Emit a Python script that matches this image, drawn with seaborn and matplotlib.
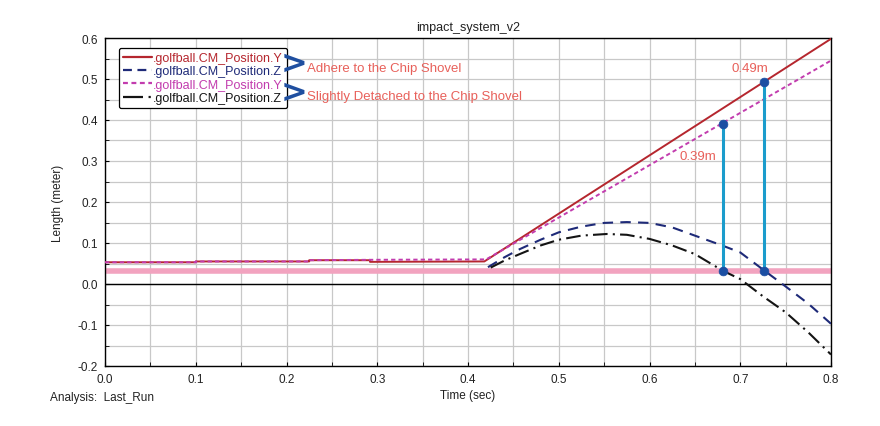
import matplotlib
matplotlib.use("Agg")
import matplotlib.pyplot as plt
from matplotlib.lines import Line2D
from matplotlib.ticker import MultipleLocator
import seaborn as sns
import pandas as pd

# values
adhere_y_t = [0.0, 0.1, 0.1, 0.225, 0.225, 0.292, 0.292, 0.418, 0.8]
adhere_y = [0.053, 0.053, 0.055, 0.055, 0.058, 0.058, 0.054, 0.055, 0.598]

detach_y_t = [0.0, 0.1, 0.1, 0.225, 0.225, 0.292, 0.42, 0.8]
detach_y = [0.053, 0.053, 0.055, 0.055, 0.058, 0.059, 0.060, 0.545]

adhere_z_t = [0.422, 0.44, 0.457, 0.48, 0.50, 0.525, 0.55, 0.575, 0.60,
              0.625, 0.65, 0.68, 0.70, 0.727, 0.75, 0.775, 0.80]
adhere_z = [0.041, 0.065, 0.085, 0.108, 0.126, 0.140, 0.149, 0.151, 0.149,
            0.138, 0.118, 0.094, 0.077, 0.032, -0.006, -0.048, -0.097]

detach_z_t = [0.425, 0.44, 0.457, 0.48, 0.50, 0.525, 0.553, 0.575, 0.60,
              0.625, 0.65, 0.681, 0.70, 0.725, 0.75, 0.775, 0.80]
detach_z = [0.040, 0.057, 0.073, 0.094, 0.108, 0.118, 0.122, 0.120, 0.110,
            0.094, 0.073, 0.032, 0.012, -0.030, -0.069, -0.118, -0.172]

ground_level = 0.032
gap_t = [0.6805, 0.726]
gap_top = [0.39, 0.493]
gap_labels = ["0.39m", "0.49m"]
gap_label_pos = [(0.653, 0.313), (0.711, 0.527)]

legend_labels = [".golfball.CM_Position.Y", ".golfball.CM_Position.Z",
                 ".golfball.CM_Position.Y", ".golfball.CM_Position.Z"]
notes = ["Adhere to the Chip Shovel", "Slightly Detached to the Chip Shovel"]

sns.set_style("white")
plt.rcParams['font.family'] = ['Liberation Sans', 'DejaVu Sans']
plt.rcParams['axes.unicode_minus'] = False

fig = plt.figure(figsize=(8.8, 4.27), dpi=100)
ax = fig.add_axes([105 / 880, 1 - 367 / 427, 726 / 880, 328 / 427])

c_red = "#b5262e"
c_navy = "#1e2a78"
c_mag = "#c23cae"
c_blk = "#141414"
c_note = "#e8605a"

ax.axhline(ground_level, color="#f2a3bf", lw=4, zorder=2)
ax.axhline(0, color="black", lw=1, zorder=2)

sns.lineplot(x=adhere_y_t, y=adhere_y, ax=ax, color=c_red, lw=1.4,
             estimator=None, sort=False, zorder=3)
sns.lineplot(x=detach_y_t, y=detach_y, ax=ax, color=c_mag, lw=1.4,
             linestyle=(0, (2.2, 1.6)), estimator=None, sort=False, zorder=3)
sns.lineplot(x=adhere_z_t, y=adhere_z, ax=ax, color=c_navy, lw=1.5,
             linestyle=(0, (5, 3.5)), estimator=None, sort=False, zorder=3)
sns.lineplot(x=detach_z_t, y=detach_z, ax=ax, color=c_blk, lw=1.5,
             linestyle=(0, (7, 2.5, 1, 2.5)), estimator=None, sort=False, zorder=3)

# measured gaps
ax.vlines(gap_t, [ground_level] * len(gap_t), gap_top, color="#1b9ccc", lw=2.2, zorder=4)
pts = pd.DataFrame({"t": gap_t * 2, "y": [ground_level] * len(gap_t) + gap_top})
sns.scatterplot(data=pts, x="t", y="y", ax=ax, color="#1c4fa3", s=40,
                edgecolor="#1c4fa3", zorder=5)
for lab, (lx, ly) in zip(gap_labels, gap_label_pos):
    ax.text(lx, ly, lab, color=c_note, fontsize=9.5, ha="center", va="center")

ax.set_xlim(0, 0.8)
ax.set_ylim(-0.2, 0.6)
ax.xaxis.set_major_locator(MultipleLocator(0.1))
ax.xaxis.set_minor_locator(MultipleLocator(0.05))
ax.yaxis.set_major_locator(MultipleLocator(0.1))
ax.yaxis.set_minor_locator(MultipleLocator(0.05))
ax.grid(True, which="both", color="#c8c8c8", lw=0.9, zorder=0)
ax.set_axisbelow(True)
ax.tick_params(which="both", direction="in", length=3, color="black",
               labelsize=8.5, labelcolor="#222222", pad=5)
ax.tick_params(axis="both", which="both", left=True, bottom=True)
for s in ax.spines.values():
    s.set_color("black")
    s.set_linewidth(1)

ax.set_title("impact_system_v2", fontsize=9, color="#222222", pad=6)
ax.set_xlabel("Time (sec)", fontsize=8.5, color="#222222", labelpad=3)
ax.set_ylabel("Length (meter)", fontsize=8.5, color="#222222", labelpad=10)
fig.text(50 / 880, 1 - 398 / 427, "Analysis:  Last_Run", fontsize=8.5,
         color="#222222", ha="left", va="center")

handles = [
    Line2D([], [], color=c_red, lw=1.6),
    Line2D([], [], color=c_navy, lw=1.6, linestyle=(0, (4, 2.5))),
    Line2D([], [], color=c_mag, lw=1.6, linestyle=(0, (2.2, 1.6))),
    Line2D([], [], color=c_blk, lw=1.6, linestyle=(0, (9, 2.5, 1, 2.5))),
]
leg = ax.legend(handles, legend_labels, loc="upper left", bbox_to_anchor=(0.019, 0.97),
                borderaxespad=0, fontsize=9, handlelength=2.3, handletextpad=0.1,
                labelspacing=0.1, borderpad=0.35, frameon=True, fancybox=True,
                framealpha=1, edgecolor="black")
leg.get_frame().set_linewidth(0.9)
for txt, col in zip(leg.get_texts(), [c_red, c_navy, c_mag, c_blk]):
    txt.set_color(col)

# braces next to the legend and the notes
for yv, note in zip([0.538, 0.468], notes):
    ax.text(0.2085, yv, ">", color="#1f4fa0", fontsize=23, fontweight="bold",
            ha="center", va="center", fontfamily="DejaVu Sans", zorder=7)
    ax.text(0.2225, yv - 0.01, note, color=c_note, fontsize=9.5, ha="left", va="center")

fig.savefig("out.png", dpi=100)
